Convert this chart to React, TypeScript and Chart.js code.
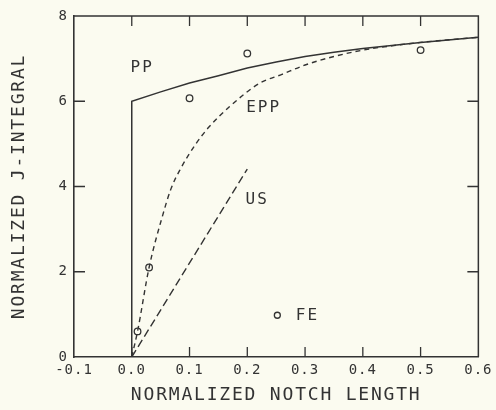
import React, { useEffect, useRef } from 'react';
import { Chart, registerables } from 'chart.js';

Chart.register(...registerables);

// Axis ranges / ticks
const xMin = -0.1;
const xMax = 0.6;
const xStep = 0.1;
const yMin = 0;
const yMax = 8;
const yStep = 2;

// PP (solid)
const ppX = [0, 0, 0.05, 0.1, 0.15, 0.2, 0.25, 0.3, 0.35, 0.4, 0.5, 0.6];
const ppY = [0, 6.0, 6.22, 6.43, 6.6, 6.78, 6.92, 7.05, 7.15, 7.24, 7.38, 7.5];

// EPP (short dashes)
const eppX = [0, 0.01, 0.03, 0.053, 0.068, 0.083, 0.111, 0.134, 0.169, 0.221, 0.26, 0.3, 0.35, 0.4, 0.45, 0.5, 0.6];
const eppY = [0, 0.6, 2.1, 3.3, 3.95, 4.38, 5.0, 5.4, 5.87, 6.42, 6.63, 6.85, 7.05, 7.2, 7.3, 7.38, 7.5];

// US (long dashes)
const usX = [0, 0.2];
const usY = [0, 4.41];

// FE points
const feX = [0.01, 0.03, 0.1, 0.2, 0.5];
const feY = [0.6, 2.1, 6.07, 7.12, 7.2];

// FE key marker
const keyX = [0.252];
const keyY = [0.98];

// Curve labels
const labelText = ['PP', 'EPP', 'US', 'FE'];
const labelX = [-0.002, 0.198, 0.197, 0.284];
const labelY = [6.79, 5.85, 3.69, 0.96];

const INK = '#333333';
const BG = '#fbfbf0';
const MONO = '"DejaVu Sans Mono", monospace';

const toPts = (xs: number[], ys: number[]) => xs.map((x, i) => ({ x, y: ys[i] }));

const paperPlugin = {
  id: 'paper',
  beforeDraw(chart: any) {
    const ctx = chart.ctx;
    ctx.save();
    ctx.fillStyle = BG;
    ctx.fillRect(0, 0, chart.width, chart.height);
    ctx.restore();
    ctx.letterSpacing = '1.8px';
  },
  afterDatasetsDraw(chart: any) {
    chart.ctx.letterSpacing = '1px';
  },
  afterDraw(chart: any) {
    const { ctx, chartArea: a, scales } = chart;
    const xs = scales.x;
    const ys = scales.y;
    ctx.save();
    ctx.strokeStyle = INK;
    ctx.lineWidth = 1.5;
    ctx.beginPath();
    ctx.moveTo(a.left, a.top);
    ctx.lineTo(a.right, a.top);
    ctx.lineTo(a.right, a.bottom);
    ctx.stroke();
    ctx.lineWidth = 1.3;
    ctx.beginPath();
    xs.ticks.forEach((t: any) => {
      if (t.value <= xMin + 1e-9 || t.value >= xMax - 1e-9) return;
      const px = xs.getPixelForValue(t.value);
      ctx.moveTo(px, a.bottom);
      ctx.lineTo(px, a.bottom - 10);
      ctx.moveTo(px, a.top);
      ctx.lineTo(px, a.top + 10);
    });
    ys.ticks.forEach((t: any) => {
      if (t.value <= yMin + 1e-9 || t.value >= yMax - 1e-9) return;
      const py = ys.getPixelForValue(t.value);
      ctx.moveTo(a.left, py);
      ctx.lineTo(a.left + 11, py);
      ctx.moveTo(a.right, py);
      ctx.lineTo(a.right - 11, py);
    });
    ctx.stroke();
    ctx.fillStyle = INK;
    ctx.font = '16px ' + MONO;
    ctx.letterSpacing = '2px';
    ctx.textAlign = 'left';
    ctx.textBaseline = 'middle';
    labelText.forEach((s, i) => {
      ctx.fillText(s, xs.getPixelForValue(labelX[i]), ys.getPixelForValue(labelY[i]));
    });
    ctx.restore();
    ctx.letterSpacing = '0px';
  },
};

export default function App() {
  const ref = useRef<HTMLCanvasElement | null>(null);

  useEffect(() => {
    if (!ref.current) return;
    const chart = new Chart(ref.current, {
      type: 'scatter',
      data: {
        datasets: [
          {
            label: 'PP',
            data: toPts(ppX, ppY),
            showLine: true,
            borderColor: INK,
            borderWidth: 1.5,
            pointRadius: 0,
            tension: 0,
            fill: false,
          },
          {
            label: 'EPP',
            data: toPts(eppX, eppY),
            showLine: true,
            borderColor: INK,
            borderWidth: 1.4,
            borderDash: [5, 4],
            pointRadius: 0,
            cubicInterpolationMode: 'monotone',
            fill: false,
          },
          {
            label: 'US',
            data: toPts(usX, usY),
            showLine: true,
            borderColor: INK,
            borderWidth: 1.4,
            borderDash: [8, 4],
            pointRadius: 0,
            fill: false,
          },
          {
            label: 'FE',
            data: toPts(feX, feY),
            showLine: false,
            pointStyle: 'circle',
            pointRadius: 3.3,
            pointBorderWidth: 1.3,
            pointBorderColor: INK,
            pointBackgroundColor: 'rgba(0,0,0,0)',
          },
          {
            label: 'FE key',
            data: toPts(keyX, keyY),
            showLine: false,
            pointStyle: 'circle',
            pointRadius: 3,
            pointBorderWidth: 1.3,
            pointBorderColor: INK,
            pointBackgroundColor: 'rgba(0,0,0,0)',
          },
        ],
      } as any,
      options: {
        animation: false,
        responsive: true,
        maintainAspectRatio: false,
        layout: { padding: { left: 0, right: 15, top: 16, bottom: 0 } },
        plugins: {
          legend: { display: false },
          tooltip: { enabled: false },
        },
        scales: {
          x: {
            type: 'linear',
            min: xMin,
            max: xMax,
            afterFit: (s: any) => {
              s.height = 53;
            },
            ticks: {
              stepSize: xStep,
              z: 1,
              padding: 5,
              color: INK,
              font: { family: MONO, size: 14 },
              maxRotation: 0,
              autoSkip: false,
              callback: (v: any) => {
                const n = Number(v);
                return (Math.abs(n) < 1e-9 ? 0 : n).toFixed(1);
              },
            },
            grid: { display: false, drawTicks: false, drawOnChartArea: false },
            border: { display: true, color: INK, width: 1.6 },
            title: {
              display: true,
              text: 'NORMALIZED NOTCH LENGTH',
              color: INK,
              font: { family: MONO, size: 18, lineHeight: 1 },
              padding: { top: 9, bottom: 6 },
            },
          },
          y: {
            type: 'linear',
            min: yMin,
            max: yMax,
            afterFit: (s: any) => {
              s.width = 74;
            },
            ticks: {
              stepSize: yStep,
              z: 1,
              padding: 6,
              color: INK,
              font: { family: MONO, size: 14 },
              callback: (v: any) => String(Math.round(Number(v))),
            },
            grid: { display: false, drawTicks: false, drawOnChartArea: false },
            border: { display: true, color: INK, width: 1.6 },
            title: {
              display: true,
              text: 'NORMALIZED J-INTEGRAL',
              color: INK,
              font: { family: MONO, size: 18, lineHeight: 1 },
              padding: { top: 10, bottom: 6 },
            },
          },
        },
      } as any,
      plugins: [paperPlugin],
    });
    return () => chart.destroy();
  }, []);

  return (
    <div style={{ position: 'fixed', left: 0, top: 0, width: 496, height: 410, background: BG }}>
      <canvas ref={ref} />
    </div>
  );
}
